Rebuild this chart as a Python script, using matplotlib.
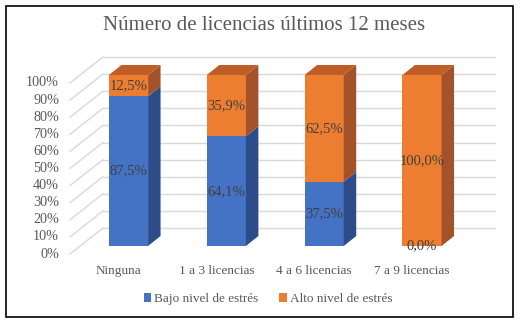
import matplotlib
matplotlib.use('Agg')
import matplotlib.pyplot as plt
from matplotlib.patches import Polygon, Rectangle, Patch

plt.rcParams['font.family'] = ['Liberation Serif', 'DejaVu Serif']

# data
categories = ['Ninguna', '1 a 3 licencias', '4 a 6 licencias', '7 a 9 licencias']
bajo = [87.5, 64.1, 37.5, 0.0]
alto = [12.5, 35.9, 62.5, 100.0]
series_names = ['Bajo nivel de estrés', 'Alto nivel de estrés']
ticks = list(range(0, 101, 10))

front_cols = ['#4472C4', '#ED7D31']
side_cols = ['#2C4D8A', '#A3522A']
top_cols = ['#3A62A8', '#BE5E26']
grid_col = '#D9D9D9'
text_col = '#404040'
axis_col = '#595959'

W, H = 521, 324
fig = plt.figure(figsize=(W / 100, H / 100), dpi=100)
ax = fig.add_axes([0, 0, 1, 1])
# front plane: category i at 128.5 + 97.83*i px, value v at 246 - 1.71*v px (from top)
px_x, px_y = 97.83, 1.71
ax.set_xlim(-128.5 / px_x, (W - 128.5) / px_x)
ax.set_ylim(-(H - 246) / px_y, 246 / px_y)
ax.axis('off')

# 3d offsets in data units
dd_x, dd_y = 12.5 / px_x, 10 / px_y        # bar depth
bk_x, bk_y = 23 / px_x, 18 / px_y          # back wall
fr_x, fr_y = -10 / px_x, -8 / px_y         # front edge of floor
left_back, right_back = -0.261, 3.745
width = 0.4

# back wall and side wall gridlines
for t in ticks:
    yb = t + bk_y
    ax.plot([left_back, right_back], [yb, yb], color=grid_col, lw=1, zorder=1)
    ax.plot([left_back - (bk_x - fr_x), left_back], [t + fr_y, yb],
            color=grid_col, lw=1, zorder=1)
    ax.text(left_back - (bk_x - fr_x) - 0.11, t + fr_y, f'{t}%', ha='right',
            va='center', fontsize=10.2, color=axis_col)

# bars
for i in range(len(categories)):
    bottom = 0
    vals = [bajo[i], alto[i]]
    for s, v in enumerate(vals):
        x0, x1 = i - width / 2, i + width / 2
        if v > 0:
            ax.bar(i, v, width, bottom=bottom, color=front_cols[s], zorder=3)
            side = Polygon([(x1, bottom), (x1 + dd_x, bottom + dd_y),
                            (x1 + dd_x, bottom + v + dd_y), (x1, bottom + v)],
                           closed=True, facecolor=side_cols[s], edgecolor='none', zorder=3)
            ax.add_patch(side)
            if s == len(vals) - 1 or sum(vals[s + 1:]) == 0:
                top = bottom + v
                tp = Polygon([(x0, top), (x1, top), (x1 + dd_x, top + dd_y),
                              (x0 + dd_x, top + dd_y)], closed=True,
                             facecolor=top_cols[s], edgecolor='none', zorder=3)
                ax.add_patch(tp)
        label = f'{v:.1f}%'.replace('.', ',')
        ax.text(i, bottom + v / 2, label, ha='center', va='center', fontsize=10.5,
                color=text_col, zorder=5)
        bottom += v
    ax.text(i + fr_x, fr_y - 10, categories[i], ha='center', va='center',
            fontsize=9.5, color=axis_col)

fig.text(264.5 / W, 1 - 25 / H, 'Número de licencias últimos 12 meses',
         ha='center', va='center', fontsize=15, color=axis_col)

handles = [Patch(facecolor=c, edgecolor='none') for c in front_cols]
fig.legend(handles, series_names, loc='center', bbox_to_anchor=(268 / W, 1 - 299 / H),
           ncol=2, frameon=False, fontsize=9.5, handlelength=0.6, handleheight=0.6,
           handletextpad=0.2, columnspacing=1.6, labelcolor=axis_col)

fig.patches.append(Rectangle((6 / W, 1 - 317 / H), 507 / W, 311 / H, transform=fig.transFigure,
                             fill=False, edgecolor='black', lw=1.2))

plt.savefig('out.png', dpi=100)
